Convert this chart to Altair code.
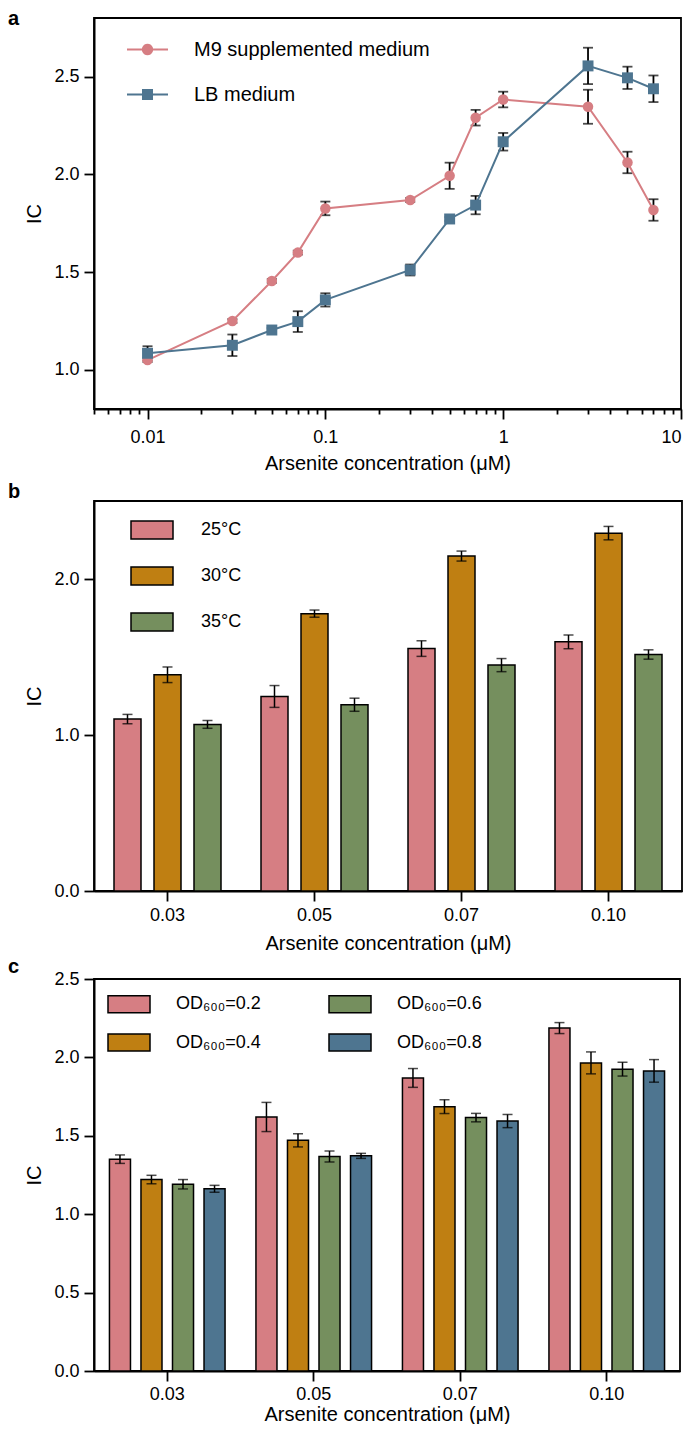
import math
import altair as alt
import pandas as pd

FONT = "Liberation Sans"
PINK = "#D67E83"
GOLD = "#BF7F12"
GREEN = "#758F5E"
BLUE = "#4E7590"

# ---------------- panel a data ----------------
series_a = ["M9 supplemented medium", "LB medium"]
conc_a = [0.01, 0.03, 0.05, 0.07, 0.1, 0.3, 0.5, 0.7, 1, 3, 5, 7]
m9_ic = [1.05, 1.25, 1.455, 1.60, 1.826, 1.869, 1.993, 2.29, 2.383, 2.346, 2.061, 1.818]
m9_err = [0.01, 0.01, 0.01, 0.01, 0.035, 0.01, 0.067, 0.04, 0.04, 0.087, 0.055, 0.055]
lb_ic = [1.085, 1.126, 1.204, 1.247, 1.358, 1.511, 1.772, 1.843, 2.167, 2.555, 2.494, 2.438]
lb_err = [0.036, 0.055, 0.01, 0.053, 0.034, 0.028, 0.01, 0.047, 0.045, 0.093, 0.057, 0.068]
x_ticks_a = [0.005, 0.006, 0.007, 0.008, 0.009,
             0.01, 0.02, 0.03, 0.04, 0.05, 0.06, 0.07, 0.08, 0.09,
             0.1, 0.2, 0.3, 0.4, 0.5, 0.6, 0.7, 0.8, 0.9,
             1, 2, 3, 4, 5, 6, 7, 8, 9, 10]
x_labels_a = ["0.01", "0.1", "1", "10"]
y_ticks_a = [1.0, 1.5, 2.0, 2.5]

# ---------------- panel b data ----------------
conc_cats = ["0.03", "0.05", "0.07", "0.10"]
temps = ["25°C", "30°C", "35°C"]
ic_25 = [1.102, 1.247, 1.554, 1.597]
ic_30 = [1.386, 1.778, 2.147, 2.294]
ic_35 = [1.068, 1.194, 1.448, 1.516]
err_25 = [0.03, 0.07, 0.05, 0.044]
err_30 = [0.05, 0.023, 0.032, 0.043]
err_35 = [0.025, 0.042, 0.042, 0.03]
y_ticks_b = [0.0, 1.0, 2.0]

# ---------------- panel c data ----------------
od_levels = ["0.2", "0.4", "0.6", "0.8"]
ic_od02 = [1.351, 1.62, 1.869, 2.187]
ic_od04 = [1.221, 1.471, 1.686, 1.965]
ic_od06 = [1.191, 1.368, 1.616, 1.925]
ic_od08 = [1.162, 1.372, 1.594, 1.914]
err_od02 = [0.027, 0.093, 0.06, 0.035]
err_od04 = [0.027, 0.042, 0.044, 0.07]
err_od06 = [0.03, 0.035, 0.027, 0.044]
err_od08 = [0.022, 0.016, 0.042, 0.072]
y_ticks_c = [0.0, 0.5, 1.0, 1.5, 2.0, 2.5]

X_TITLE = "Arsenite concentration (μM)"

# ================= panel a =================
rows = []
for name, ys, es in [(series_a[0], m9_ic, m9_err), (series_a[1], lb_ic, lb_err)]:
    for x, y, e in zip(conc_a, ys, es):
        rows.append({"series": name, "conc": x, "ic": y, "lo": y - e, "hi": y + e})
df_a = pd.DataFrame(rows)

major_test = " || ".join(f"datum.value == {v}" for v in x_labels_a)
label_expr = "".join(f"datum.value == {v} ? '{v}' : " for v in x_labels_a) + "''"

ysc_a = alt.Scale(domain=[0.8, 2.8], nice=False, zero=False)
xa = alt.X("conc:Q",
           scale=alt.Scale(type="log", domain=[0.005, 10], nice=False),
           axis=alt.Axis(values=x_ticks_a, labelExpr=label_expr, title=X_TITLE,
                         tickSize={"condition": {"test": major_test, "value": 10}, "value": 5},
                         labelPadding=9, titleY=60, titleBaseline="alphabetic",
                         labelFlush=True, labelOverlap=False))
ya = alt.Y("ic:Q", scale=ysc_a,
           axis=alt.Axis(values=y_ticks_a, format=".1f", title="IC", tickSize=10,
                         labelPadding=5, titleX=-50))

base_a = alt.Chart(df_a)
col_a = alt.Scale(domain=series_a, range=[PINK, BLUE])

err_a = base_a.mark_rule(color="black", strokeWidth=1.8).encode(
    x=xa, y=alt.Y("lo:Q", scale=ysc_a), y2="hi:Q")
cap_hi_a = base_a.mark_tick(color="black", thickness=1.8, size=10, orient="horizontal").encode(
    x=xa, y=alt.Y("hi:Q"))
cap_lo_a = base_a.mark_tick(color="black", thickness=1.8, size=10, orient="horizontal").encode(
    x=xa, y=alt.Y("lo:Q"))
line_a = base_a.mark_line(strokeWidth=2).encode(
    x=xa, y=ya, color=alt.Color("series:N", scale=col_a, legend=None))
pts_m9 = base_a.transform_filter(alt.datum.series == series_a[0]).mark_point(
    filled=True, size=110, opacity=1, shape="circle", color=PINK).encode(x=xa, y=ya)
pts_lb = base_a.transform_filter(alt.datum.series == series_a[1]).mark_point(
    filled=True, size=120, opacity=1, shape="square", color=BLUE).encode(x=xa, y=ya)

# legend symbols (unit-square paths): a line with a marker in its middle
ring = " ".join(f"L{0.23 * math.cos(2 * math.pi * k / 20):.4f},{0.23 * math.sin(2 * math.pi * k / 20):.4f}"
                for k in range(1, 20))
circle_path = f"M-1,0L1,0M0.23,0{ring}Z"
square_path = "M-1,0L1,0M-0.22,-0.22L0.22,-0.22L0.22,0.22L-0.22,0.22Z"


def legend_carrier(name, color, path, ly):
    leg = alt.Legend(title=None, orient="none", legendX=32, legendY=ly, padding=0,
                     labelFont=FONT, labelFontSize=20, labelColor="black", labelOffset=25,
                     labelLimit=500, symbolType=path, symbolSize=1681,
                     symbolStrokeColor=color, symbolFillColor=color,
                     symbolStrokeWidth=2, symbolOpacity=1)
    return base_a.transform_filter("datum.ic < -100").mark_point(
        filled=True, stroke=color, strokeWidth=2, size=1681).encode(
        x=xa, y=ya,
        color=alt.Color("series:N", scale=alt.Scale(domain=[name], range=[color]), legend=leg))


leg_m9 = legend_carrier(series_a[0], PINK, circle_path, 10)
leg_lb = legend_carrier(series_a[1], BLUE, square_path, 55)

chart_a = alt.layer(err_a, cap_hi_a, cap_lo_a, line_a, pts_m9, pts_lb, leg_m9, leg_lb
                    ).resolve_scale(color="independent").properties(
    width=587, height=391,
    title=alt.TitleParams("a", anchor="start", frame="group", dx=-86, dy=30, offset=3,
                          baseline="alphabetic", fontSize=20, fontWeight="bold",
                          font=FONT, color="black"))

# ================= helper for bar panels =================
def bar_panel(df, group_field, groups, colors, legend, y_dom, y_ticks, inner, outer,
              width, height, letter, letter_offset, letter_dy, label_pad, title_y):
    x = alt.X("conc:N", sort=conc_cats,
              scale=alt.Scale(paddingInner=0, paddingOuter=0),
              axis=alt.Axis(title=X_TITLE, labelAngle=0, tickSize=10, labelPadding=label_pad,
                            titleY=title_y, titleBaseline="alphabetic"))
    xo = alt.XOffset(f"{group_field}:N", sort=groups,
                     scale=alt.Scale(paddingInner=inner, paddingOuter=outer))
    y = alt.Y("ic:Q", scale=alt.Scale(domain=y_dom, nice=False),
              axis=alt.Axis(values=y_ticks, format=".1f", title="IC", tickSize=10,
                            labelPadding=5, titleX=-50))
    base = alt.Chart(df)
    bars = base.mark_bar(stroke="black", strokeWidth=1.5).encode(
        x=x, xOffset=xo, y=y,
        color=alt.Color(f"{group_field}:N", scale=alt.Scale(domain=groups, range=colors),
                        legend=legend))
    rule = base.mark_rule(color="black", strokeWidth=1.5).encode(
        x=x, xOffset=xo, y=alt.Y("lo:Q"), y2="hi:Q")
    cap_hi = base.mark_tick(color="black", thickness=1.5, size=10).encode(
        x=x, xOffset=xo, y=alt.Y("hi:Q"))
    cap_lo = base.mark_tick(color="black", thickness=1.5, size=10).encode(
        x=x, xOffset=xo, y=alt.Y("lo:Q"))
    return alt.layer(bars, rule, cap_hi, cap_lo).properties(
        width=width, height=height,
        title=alt.TitleParams(letter, anchor="start", frame="group", dx=-86, dy=letter_dy,
                              offset=letter_offset, baseline="alphabetic", fontSize=20,
                              fontWeight="bold", font=FONT, color="black"))

# ================= panel b =================
rows = []
for t, ics, errs in [(temps[0], ic_25, err_25), (temps[1], ic_30, err_30), (temps[2], ic_35, err_35)]:
    for c, v, e in zip(conc_cats, ics, errs):
        rows.append({"conc": c, "temp": t, "ic": v, "lo": v - e, "hi": v + e})
df_b = pd.DataFrame(rows)

leg_b = alt.Legend(title=None, orient="none", legendX=36, legendY=7, padding=0,
                   labelFont=FONT, labelFontSize=18, labelColor="black", labelOffset=27,
                   rowPadding=11, symbolType="M-1,-0.43L1,-0.43L1,0.43L-1,0.43Z",
                   symbolSize=1764, symbolStrokeColor="black", symbolStrokeWidth=1.5,
                   symbolOpacity=1, labelLimit=300)
chart_b = bar_panel(df_b, "temp", temps, [PINK, GOLD, GREEN], leg_b, [0, 2.5], y_ticks_b,
                    0.325, 0.5, 588, 390, "b", 3, 20, 5, 58)

# ================= panel c =================
od_names = [f"OD₆₀₀={v}" for v in od_levels]
rows = []
for nm, ics, errs in [(od_names[0], ic_od02, err_od02), (od_names[1], ic_od04, err_od04),
                      (od_names[2], ic_od06, err_od06), (od_names[3], ic_od08, err_od08)]:
    for c, v, e in zip(conc_cats, ics, errs):
        rows.append({"conc": c, "od": nm, "ic": v, "lo": v - e, "hi": v + e})
df_c = pd.DataFrame(rows)

leg_c = alt.Legend(title=None, orient="none", legendX=13, legendY=3, padding=0,
                   columns=2, columnPadding=65, rowPadding=4.5,
                   labelFont=FONT, labelFontSize=18, labelColor="black", labelOffset=25,
                   symbolType="M-1,-0.405L1,-0.405L1,0.405L-1,0.405Z",
                   symbolSize=1764, symbolStrokeColor="black", symbolStrokeWidth=1.5,
                   symbolOpacity=1, labelLimit=300)
chart_c = bar_panel(df_c, "od", od_names, [PINK, GOLD, GREEN, BLUE], leg_c, [0, 2.5],
                    y_ticks_c, 0.333, 0.49, 586, 392, "c", 6, 29, 4, 49)

indep = dict(color="independent", shape="independent", xOffset="independent")
inner_bc = alt.vconcat(chart_b, chart_c, spacing=88, bounds="flush").resolve_scale(**indep)
chart = alt.vconcat(
    chart_a, inner_bc, spacing=92, bounds="flush"
).resolve_scale(**indep).properties(
    autosize=alt.AutoSizeParams(type="none"),
    padding={"left": 86, "top": 10, "right": 589, "bottom": 1406}
).configure_view(
    stroke="black", strokeWidth=1.8
).configure_axis(
    grid=False, labelFont=FONT, labelFontSize=18, labelColor="black",
    titleFont=FONT, titleFontSize=20, titleFontWeight="normal", titleColor="black",
    domainColor="black", domainWidth=2, tickColor="black", tickWidth=1.8
).configure_legend(labelFont=FONT)

chart.save("out.html", embed_options={"renderer": "svg", "actions": False})
